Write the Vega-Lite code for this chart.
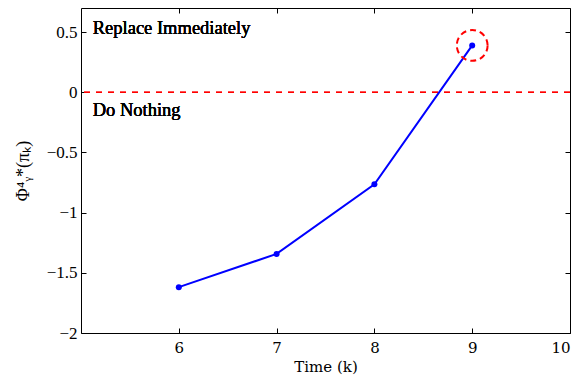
{
  "$schema": "https://vega.github.io/schema/vega-lite/v6.json",
  "autosize": "none",
  "padding": {"left": 81, "top": 8, "right": 10, "bottom": 48},
  "width": 489,
  "height": 325,
  "background": "white",
  "config": {
    "view": {"stroke": "black", "strokeWidth": 1},
    "axis": {
      "domain": false, "grid": false, "tickColor": "black", "tickSize": -5,
      "labelFont": "Liberation Serif", "labelFontSize": 17, "labelColor": "black",
      "titleFont": "DejaVu Serif", "titleFontSize": 15, "titleFontWeight": "normal", "titleColor": "black"
    }
  },
  "data": {"values": [
    {"time": 6, "phi": -1.619},
    {"time": 7, "phi": -1.343},
    {"time": 8, "phi": -0.765},
    {"time": 9, "phi": 0.389}
  ]},
  "resolve": {"axis": {"x": "independent", "y": "independent"}},
  "layer": [
    {
      "mark": {"type": "rule", "color": "#ff0000", "strokeWidth": 1, "strokeDash": [6, 6]},
      "encoding": {
        "y": {"datum": 0, "type": "quantitative", "scale": {"domain": [-2, 0.7], "nice": false, "zero": false}, "axis": null}
      }
    },
    {
      "mark": {"type": "line", "color": "#0000ff", "strokeWidth": 2},
      "encoding": {
        "x": {"field": "time", "type": "quantitative", "scale": {"domain": [5, 10], "nice": false, "zero": false},
          "axis": {"orient": "bottom", "values": [6, 7, 8, 9, 10], "format": "d", "labelPadding": 12, "title": "Time (k)", "titlePadding": 4, "labelFont": "DejaVu Serif", "labelFontSize": 15}},
        "y": {"field": "phi", "type": "quantitative",
          "axis": {"orient": "left", "values": [-2, -1.5, -1, -0.5, 0, 0.5], "format": "~g", "labelPadding": 9, "title": "Φ⁴ᵧ*(πₖ)", "titlePadding": 14, "titleFont": "Liberation Serif", "titleFontSize": 18}}
      }
    },
    {
      "mark": {"type": "point", "filled": true, "color": "#0000ff", "size": 36, "opacity": 1},
      "encoding": {
        "x": {"field": "time", "type": "quantitative",
          "axis": {"orient": "top", "labels": true, "labelColor": "transparent", "ticks": true, "tickSize": -5, "tickColor": "black", "values": [6, 7, 8, 9, 10], "title": null}},
        "y": {"field": "phi", "type": "quantitative",
          "axis": {"orient": "right", "labels": true, "labelColor": "transparent", "ticks": true, "tickSize": -5, "tickColor": "black", "values": [-2, -1.5, -1, -0.5, 0, 0.5], "title": null}}
      }
    },
    {
      "transform": [{"filter": "datum.time == 9"}],
      "mark": {"type": "point", "shape": "circle", "filled": false, "color": "#ff0000", "strokeWidth": 2, "strokeDash": [6, 4], "size": 950, "opacity": 1},
      "encoding": {
        "x": {"field": "time", "type": "quantitative", "axis": null},
        "y": {"field": "phi", "type": "quantitative", "axis": null}
      }
    },
    {
      "mark": {"type": "text", "text": "Replace Immediately", "align": "left", "baseline": "alphabetic", "font": "Liberation Serif", "fontSize": 18.5, "fontWeight": "normal", "color": "black"},
      "encoding": {
        "x": {"datum": 5.12, "type": "quantitative", "axis": null},
        "y": {"datum": 0.485, "type": "quantitative", "axis": null}
      }
    },
    {
      "mark": {"type": "text", "text": "Do Nothing", "align": "left", "baseline": "alphabetic", "font": "Liberation Serif", "fontSize": 18.5, "fontWeight": "normal", "color": "black"},
      "encoding": {
        "x": {"datum": 5.12, "type": "quantitative", "axis": null},
        "y": {"datum": -0.2, "type": "quantitative", "axis": null}
      }
    }
  ]
}
